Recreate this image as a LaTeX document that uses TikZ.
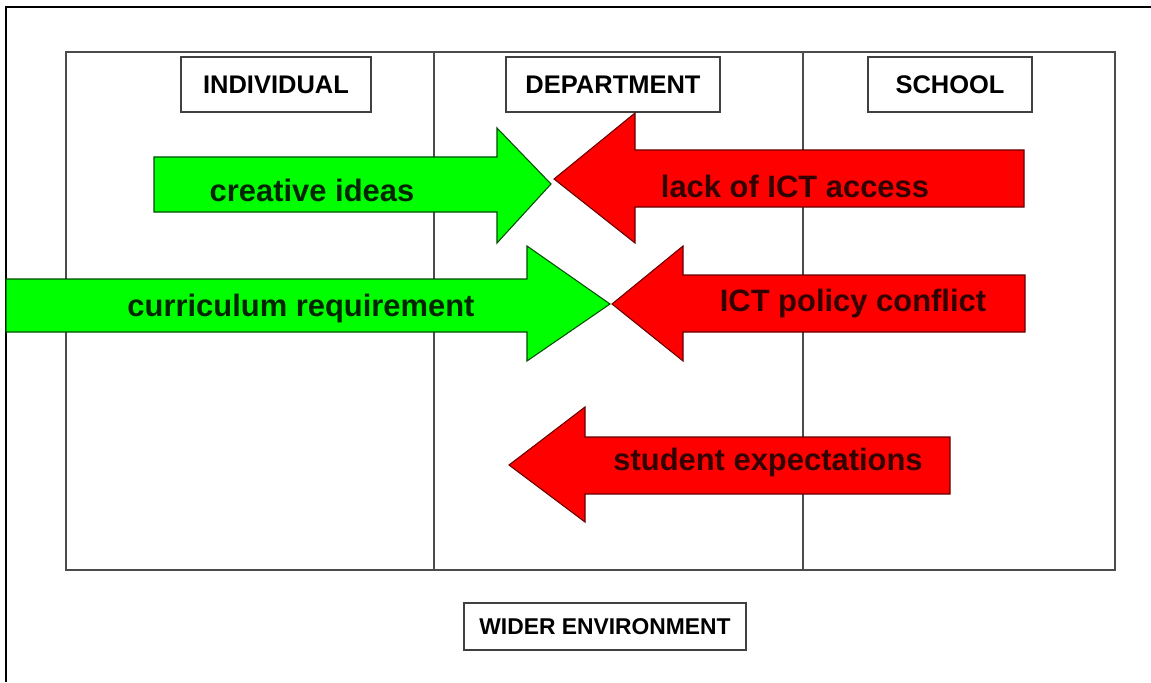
\documentclass[tikz,border=0pt]{standalone}
\usepackage{fontspec}
\setmainfont{Liberation Sans}
\usepackage{xcolor}
\usepackage{tikz}
\usetikzlibrary{positioning,calc}

\definecolor{arrowgreen}{HTML}{00FF00}
\definecolor{arrowred}{HTML}{FF0000}

\tikzset{
  gridline/.style={line width=1.1pt,draw=black!70},
  headbox/.style={draw=black!75,line width=1.3pt,fill=white,minimum height=1.1cm,
    inner sep=0pt,font=\fontsize{14.5}{16}\selectfont\bfseries},
  greenarrow/.style={fill=arrowgreen,draw=black!70!green,line width=0.6pt,line join=miter},
  redarrow/.style={fill=arrowred,draw=black!60!red,line width=0.6pt,line join=miter},
  arrowtext/.style={inner sep=0pt,font=\fontsize{17.6}{20}\selectfont\bfseries}
}

\begin{document}
\begin{tikzpicture}[x=0.02cm,y=-0.02cm]
\useasboundingbox (0,0) rectangle (1151,682);
\fill[white] (0,0) rectangle (1151,682);
% outer frame, only left and top edges visible
\draw[line width=1.5pt] (6,682) -- (6,7) -- (1151,7);

% the three columns
\draw[gridline] (66,52) rectangle (1115,570);
\foreach \x in {434,803}
  \draw[gridline] (\x,52) -- (\x,570);

\node[headbox,minimum width=3.8cm] (indiv) at (276,84.5) {INDIVIDUAL};
\node[headbox,minimum width=4.28cm] (dept) at (613,84.5) {DEPARTMENT};
\node[headbox,minimum width=3.28cm] (school) at (950,84.5) {SCHOOL};
\node[headbox,minimum width=5.64cm,minimum height=0.94cm,font=\fontsize{13}{15}\selectfont\bfseries] (wider) at (605,626.5) {WIDER ENVIRONMENT};

% forces pushing in
\draw[greenarrow] (154,157) -- (497,157) -- (497,128) -- (551,184) -- (497,243) -- (497,212) -- (154,212) -- cycle;
\draw[redarrow] (1024,150) -- (635,150) -- (635,113) -- (554,179) -- (635,243) -- (635,207) -- (1024,207) -- cycle;
\draw[greenarrow] (6,279) -- (527,279) -- (527,246) -- (610,304) -- (527,361) -- (527,332) -- (6,332) -- cycle;
\draw[redarrow] (1025,275) -- (683,275) -- (683,246) -- (612,304) -- (683,361) -- (683,332) -- (1025,332) -- cycle;
\draw[redarrow] (950,437) -- (585,437) -- (585,407) -- (509,465) -- (585,522) -- (585,494) -- (950,494) -- cycle;

\node[arrowtext,text=black!85!green] (creative) at (312,190) {creative ideas};
\node[arrowtext,text=black!80!red] (access) at (795,186) {lack of ICT access};
\node[arrowtext,text=black!85!green] (curric) at (301,309) {curriculum requirement};
\node[arrowtext,text=black!80!red] (policy) at (853,304) {ICT policy conflict};
\node[arrowtext,text=black!80!red] (student) at (768,462) {student expectations};
\end{tikzpicture}
\end{document}
